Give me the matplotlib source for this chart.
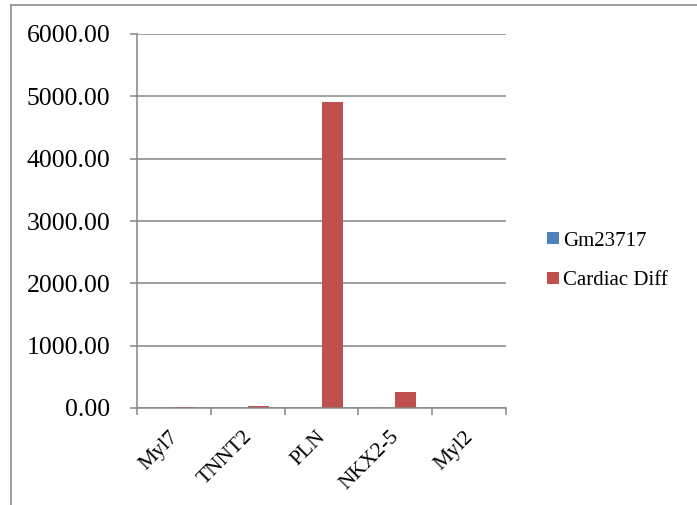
import matplotlib
matplotlib.use("Agg")
import matplotlib.pyplot as plt
import matplotlib.transforms as mtransforms
from matplotlib.lines import Line2D
from matplotlib.patches import Patch
import numpy as np

genes = ["Myl7", "TNNT2", "PLN", "NKX2-5", "Myl2"]
gm23717 = [1.0, 1.0, 1.0, 1.0, 1.0]
cardiac_diff = [15.0, 38.0, 4910.0, 255.0, 2.0]
series_names = ["Gm23717", "Cardiac Diff"]
y_ticks = [0, 1000, 2000, 3000, 4000, 5000, 6000]

blue = "#4F81BD"
red = "#C0504D"
grey = "#868686"

plt.rcParams["font.family"] = ["Liberation Serif", "DejaVu Serif"]

fig = plt.figure(figsize=(6.97, 5.05), dpi=100)
ax = fig.add_axes([137 / 697, 1 - 408 / 505, (506 - 137) / 697, (408 - 34) / 505])

x = np.arange(len(genes))
w = 1 / 3.5
ax.bar(x - w / 2, gm23717, width=w, color=blue, zorder=3)
ax.bar(x + w / 2, cardiac_diff, width=w, color=red, zorder=3)

ax.set_xlim(-0.5, len(genes) - 0.5)
ax.set_ylim(0, 6000)
ax.set_yticks(y_ticks)
ax.set_yticklabels([f"{v:.2f}" for v in y_ticks], fontsize=18.5, color="black")
ax.yaxis.grid(True, color=grey, linewidth=1.1, zorder=0)
ax.tick_params(axis="y", length=5, width=1.1, color=grey, pad=14)

# category boundaries carry the tick marks, centres carry the labels
ax.set_xticks(np.arange(len(genes) + 1) - 0.5)
ax.set_xticklabels([])
ax.set_xticks(x, minor=True)
ax.set_xticklabels(genes, minor=True, rotation=45, ha="right", fontsize=15.5)
ax.tick_params(axis="x", which="major", length=5, width=1.1, color=grey)
ax.tick_params(axis="x", which="minor", length=0, pad=14)
shift = mtransforms.ScaledTranslation(8 / 100, 0, fig.dpi_scale_trans)
for lbl in ax.get_xticklabels(minor=True):
    lbl.set_transform(lbl.get_transform() + shift)

for s in ["top", "right"]:
    ax.spines[s].set_visible(False)
for s in ["left", "bottom"]:
    ax.spines[s].set_color(grey)
    ax.spines[s].set_linewidth(1.1)
    ax.spines[s].set_zorder(4)

handles = [Patch(facecolor=blue, edgecolor="none"), Patch(facecolor=red, edgecolor="none")]
fig.legend(handles, series_names, loc="center left",
           bbox_to_anchor=(537 / 697, 1 - 261 / 505), frameon=False,
           fontsize=15, handlelength=0.55, handleheight=0.55,
           handletextpad=0.2, labelspacing=1.0, borderpad=0)

# outer chart frame
fig.add_artist(Line2D([11 / 697, 11 / 697], [0, 1 - 5 / 505], color=grey, linewidth=1.1))
fig.add_artist(Line2D([11 / 697, 1], [1 - 5 / 505, 1 - 5 / 505], color=grey, linewidth=1.1))

fig.savefig("out.png", dpi=100, facecolor="white")
